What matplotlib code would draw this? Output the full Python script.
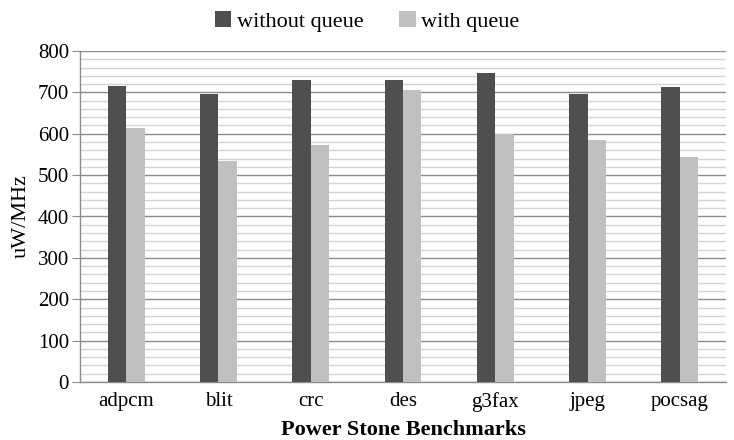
import matplotlib
matplotlib.use("Agg")
import matplotlib.pyplot as plt
import numpy as np
from matplotlib.ticker import MultipleLocator

categories = ["adpcm", "blit", "crc", "des", "g3fax", "jpeg", "pocsag"]
without_queue = [715, 697, 731, 731, 748, 697, 714]
with_queue = [615, 534, 573, 706, 600, 584, 544]
series_names = ["without queue", "with queue"]

plt.rcParams['font.family'] = ['Liberation Serif', 'DejaVu Serif']

fig = plt.figure(figsize=(7.34, 4.40), dpi=100)
ax = fig.add_axes([80/734, 1-382/440, 646/734, 331/440])

x = np.arange(len(categories))
w = 0.2
ax.bar(x - w/2, without_queue, w, color="#4f4f4f", label=series_names[0], zorder=3)
ax.bar(x + w/2, with_queue, w, color="#c0c0c0", label=series_names[1], zorder=3)

ax.set_xlim(-0.5, len(categories) - 0.5)
ax.set_ylim(0, 800)
ax.yaxis.set_major_locator(MultipleLocator(100))
ax.yaxis.set_minor_locator(MultipleLocator(20))
ax.grid(axis='y', which='major', color="#8c8c8c", linewidth=1.0, zorder=1)
ax.grid(axis='y', which='minor', color="#d4d4d4", linewidth=1.0, zorder=1)
ax.set_axisbelow(True)

ax.set_xticks(x)
ax.set_xticklabels(categories, fontsize=15)
ax.tick_params(axis='x', length=0, pad=7)
ax.tick_params(axis='y', which='major', length=6, color="#8c8c8c", labelsize=15, pad=2)
ax.tick_params(axis='y', which='minor', length=0)

for s in ['top', 'right']:
    ax.spines[s].set_visible(False)
for s in ['left', 'bottom']:
    ax.spines[s].set_color("#8c8c8c")
    ax.spines[s].set_linewidth(1.0)

ax.set_ylabel("uW/MHz", fontsize=16, labelpad=5)
ax.set_xlabel("Power Stone Benchmarks", fontsize=16, fontweight='bold', labelpad=6)

fig.legend(loc='upper center', bbox_to_anchor=(0.50, 1.02), ncol=2, frameon=False,
           fontsize=16, handlelength=0.75, handleheight=0.75, handletextpad=0.25, columnspacing=1.6)

fig.savefig("out.png", dpi=100)
